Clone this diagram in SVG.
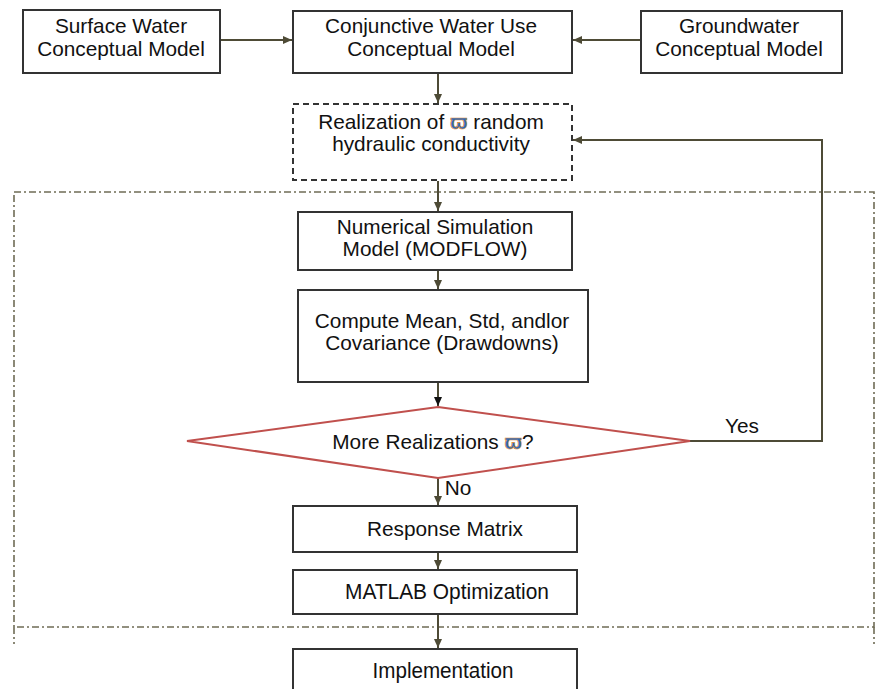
<svg xmlns="http://www.w3.org/2000/svg" width="876" height="689" viewBox="0 0 876 689">
<defs>
<style>
.box{fill:#fff;stroke:#333;stroke-width:2}
.dbox{fill:#fff;stroke:#333;stroke-width:2;stroke-dasharray:6 4}
.t{font-family:"Liberation Sans",Arial,sans-serif;font-size:20.8px;fill:#111;text-anchor:middle}
.n{font-family:"Liberation Sans Narrow","Liberation Sans",Arial,sans-serif;font-size:22px;fill:#111;text-anchor:middle}
.c{fill:none;stroke:#4e4b36;stroke-width:2}
.frame{fill:none;stroke:#6f6c55;stroke-width:1.6;stroke-dasharray:7 3 2 3}
.w{fill:#2c6cb8;stroke:#e08a2c;stroke-width:0.6;font-weight:bold}
</style>
<marker id="ah" markerWidth="10" markerHeight="10" refX="9" refY="5" orient="auto" markerUnits="userSpaceOnUse">
<path d="M0,1 L9,5 L0,9 Z" fill="#4e4b36"/>
</marker>
<marker id="ahk" markerWidth="10" markerHeight="10" refX="9" refY="5" orient="auto" markerUnits="userSpaceOnUse">
<path d="M0,1 L9,5 L0,9 Z" fill="#111"/>
</marker>
</defs>
<rect width="876" height="689" fill="#fff"/>

<g id="frame">
<rect class="frame" x="14" y="192" width="860" height="435"/>
<line class="frame" x1="14" y1="627" x2="14" y2="644"/>
<line class="frame" x1="874" y1="627" x2="874" y2="644"/>
</g>

<g id="connectors">
<line class="c" x1="221" y1="40" x2="292" y2="40" marker-end="url(#ah)"/>
<line class="c" x1="641" y1="40" x2="573" y2="40" marker-end="url(#ah)"/>
<line class="c" x1="438" y1="74" x2="438" y2="103" marker-end="url(#ah)"/>
<line class="c" x1="438" y1="181" x2="438" y2="211" marker-end="url(#ah)"/>
<line class="c" x1="438" y1="271" x2="438" y2="289" marker-end="url(#ah)"/>
<line class="c" x1="438" y1="383" x2="438" y2="406" stroke="#111" marker-end="url(#ahk)"/>
<polyline class="c" points="690,441 822,441 822,140 573,140" marker-end="url(#ah)"/>
<line class="c" x1="438" y1="478" x2="438" y2="505" marker-end="url(#ah)"/>
<line class="c" x1="438" y1="553" x2="438" y2="569" marker-end="url(#ah)"/>
<line class="c" x1="438" y1="615" x2="438" y2="648" marker-end="url(#ah)"/>
<text class="t" x="742" y="433">Yes</text>
<text class="t" x="458" y="495">No</text>
</g>

<g id="surface">
<rect class="box" x="23" y="10" width="197" height="63"/>
<text class="t" x="121" y="33">Surface Water</text>
<text class="t" x="121" y="56">Conceptual Model</text>
</g>

<g id="conjunctive">
<rect class="box" x="293" y="11" width="279" height="62"/>
<text class="t" x="431" y="33">Conjunctive Water Use</text>
<text class="t" x="431" y="56">Conceptual Model</text>
</g>

<g id="groundwater">
<rect class="box" x="641" y="11" width="201" height="62"/>
<text class="t" x="739" y="33">Groundwater</text>
<text class="t" x="739" y="56">Conceptual Model</text>
</g>

<g id="realization">
<rect class="dbox" x="293" y="104" width="279" height="76"/>
<text class="t" x="431" y="129">Realization of <tspan class="w">ϖ</tspan> random</text>
<text class="t" x="431" y="151">hydraulic conductivity</text>
</g>

<g id="numerical">
<rect class="box" x="298" y="212" width="274" height="58"/>
<text class="t" x="435" y="234">Numerical Simulation</text>
<text class="t" x="435" y="256">Model (MODFLOW)</text>
</g>

<g id="compute">
<rect class="box" x="298" y="290" width="290" height="92"/>
<text class="t" x="442" y="328">Compute Mean, Std, andlor</text>
<text class="t" x="442" y="350">Covariance (Drawdowns)</text>
</g>

<g id="decision">
<polygon points="438,407 690,441 438,478 187,441" fill="#fff" stroke="#c0504d" stroke-width="2"/>
<text class="t" x="433" y="449">More Realizations <tspan class="w">ϖ</tspan>?</text>
</g>

<g id="response">
<rect class="box" x="293" y="506" width="284" height="46"/>
<text class="t" x="445" y="536">Response Matrix</text>
</g>

<g id="matlab">
<rect class="box" x="293" y="570" width="284" height="44"/>
<text class="n" x="447" y="599" textLength="204" lengthAdjust="spacingAndGlyphs">MATLAB Optimization</text>
</g>

<g id="implementation">
<rect class="box" x="293" y="649" width="284" height="50"/>
<text class="n" x="443" y="678" textLength="141" lengthAdjust="spacingAndGlyphs">Implementation</text>
</g>
</svg>
